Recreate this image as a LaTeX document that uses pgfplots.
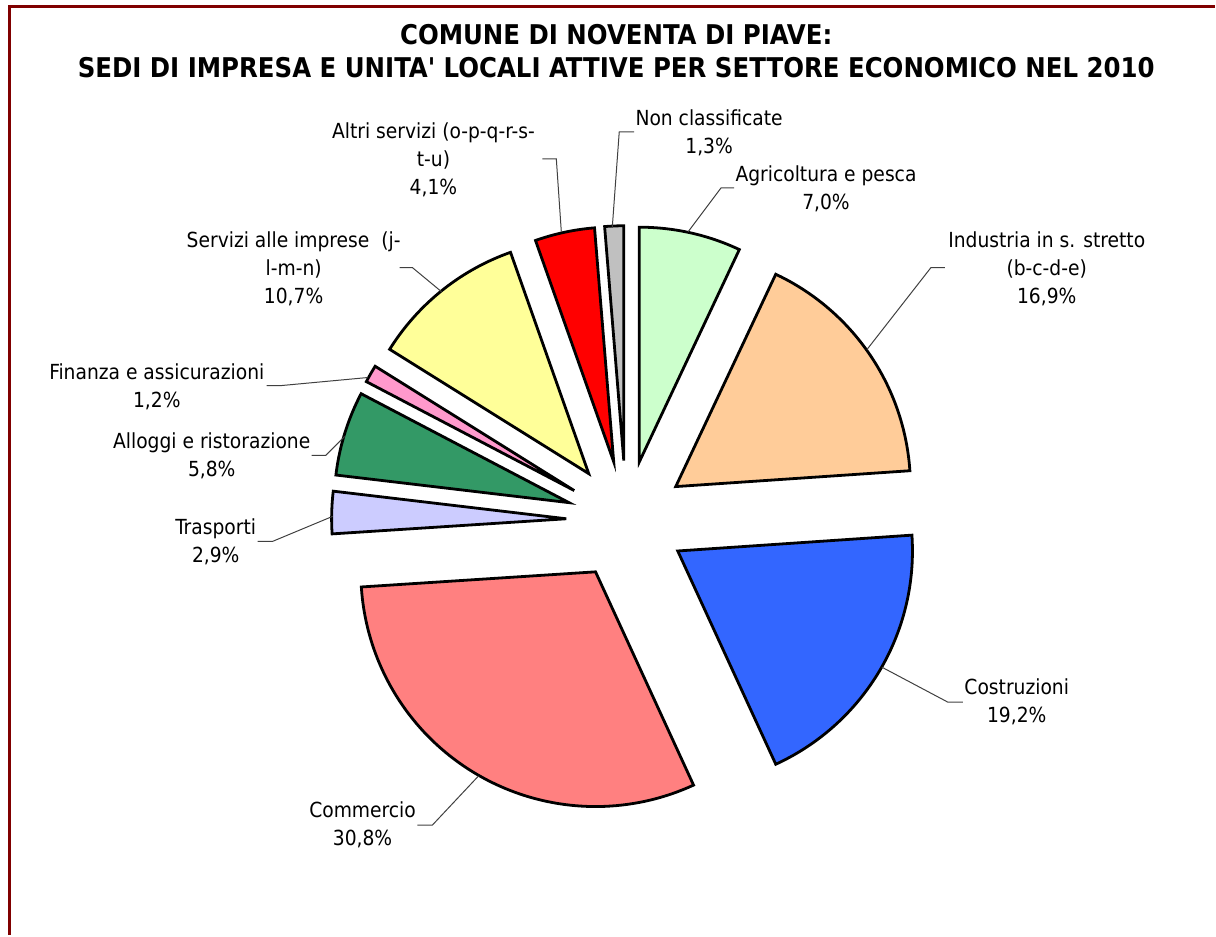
\documentclass[border=0pt]{standalone}
\usepackage{pgfplots}
\pgfplotsset{compat=1.18}
\usepackage{pgfplotstable}
\usepackage{fontspec}
\setmainfont{DejaVu Sans Condensed}[Ligatures=TeXOff]
\definecolor{cagri}{HTML}{CCFFCC}
\definecolor{cind}{HTML}{FFCC99}
\definecolor{ccost}{HTML}{3366FF}
\definecolor{ccomm}{HTML}{FF8080}
\definecolor{ctrasp}{HTML}{CCCCFF}
\definecolor{calloggi}{HTML}{339966}
\definecolor{cfin}{HTML}{FF99CC}
\definecolor{cserv}{HTML}{FFFF99}
\definecolor{caltri}{HTML}{FF0000}
\definecolor{cnonc}{HTML}{C0C0C0}
\definecolor{frame}{HTML}{800000}
\definecolor{leader}{HTML}{404040}

% percent share of each sector (clockwise from 12 o'clock)
\pgfplotstableread{
pct   col
7.0   cagri
16.9  cind
19.2  ccost
30.8  ccomm
2.9   ctrasp
5.8   calloggi
1.2   cfin
10.7  cserv
4.1   caltri
1.3   cnonc
}\piedata
\pgfplotstablegetrowsof{\piedata}
\pgfmathtruncatemacro{\N}{\pgfplotsretval-1}

\begin{document}
\begin{tikzpicture}
\begin{axis}[hide axis, scale only axis, width=608pt, height=468pt,
  xmin=0, xmax=1216, ymin=0, ymax=936, y dir=reverse, clip=false]
\path (axis cs:0,0) rectangle (axis cs:1216,936);
\def\cum{0}
\pgfplotsforeachungrouped \i in {0,...,\N}{%
  \pgfplotstablegetelem{\i}{pct}\of\piedata \let\p\pgfplotsretval
  \pgfplotstablegetelem{\i}{col}\of\piedata \let\slicecol\pgfplotsretval
  \pgfmathsetmacro{\aS}{90-\cum/99.9*360}%
  \pgfmathsetmacro{\aE}{90-(\cum+\p)/99.9*360}%
  \pgfmathsetmacro{\aM}{(\aS+\aE)/2}%
  \pgfmathsetmacro{\ox}{627+60*cos(\aM)}%
  \pgfmathsetmacro{\oy}{521-60*sin(\aM)}%
  \edef\doit{\noexpand\addplot[draw=black, line width=1.4pt, fill=\slicecol,
    domain=\aE:\aS, samples=80, variable=\noexpand\t, line join=miter]
    ({\ox+235*cos(\noexpand\t)},{\oy-235*sin(\noexpand\t)}) -- (axis cs:\ox,\oy) -- cycle;}%
  \doit
  \pgfmathsetmacro{\cum}{\cum+\p}%
}
% frame
\draw[frame, line width=1.5pt] (axis cs:10,936) -- (axis cs:10,7) -- (axis cs:1216,7);
% title
\node[font=\bfseries\fontsize{13.6}{16.5}\selectfont, align=center] at (axis cs:617,51)
  {COMUNE DI NOVENTA DI PIAVE:\\SEDI DI IMPRESA E UNITA' LOCALI ATTIVE PER SETTORE ECONOMICO NEL 2010};
% leader lines
\begin{scope}[leader, line width=0.5pt]
\draw (axis cs:613,228) -- (axis cs:620,132) -- (axis cs:635,132);
\draw (axis cs:689,232) -- (axis cs:722,188) -- (axis cs:735,188);
\draw (axis cs:868,350) -- (axis cs:932,268) -- (axis cs:946,268);
\draw (axis cs:883,668) -- (axis cs:949,703) -- (axis cs:964,703);
\draw (axis cs:479,777) -- (axis cs:433,826) -- (axis cs:418,826);
\draw (axis cs:333,517) -- (axis cs:273,542) -- (axis cs:258,542);
\draw (axis cs:345,437) -- (axis cs:326,456) -- (axis cs:312,456);
\draw (axis cs:368,378) -- (axis cs:282,386) -- (axis cs:267,386);
\draw (axis cs:442,292) -- (axis cs:413,268) -- (axis cs:400,268);
\draw (axis cs:562,232) -- (axis cs:557,159) -- (axis cs:543,159);
\end{scope}
% labels
\tikzset{lab/.style={font=\fontsize{10.4}{14}\selectfont, align=center, inner sep=0pt}}
\node[lab] at (axis cs:710,133) {Non classificate\\1,3\%};
\node[lab] at (axis cs:827,189) {Agricoltura e pesca\\7,0\%};
\node[lab] at (axis cs:1048,269) {Industria in s. stretto\\(b-c-d-e)\\16,9\%};
\node[lab] at (axis cs:1018,703) {Costruzioni\\19,2\%};
\node[lab] at (axis cs:363,826) {Commercio\\30,8\%};
\node[lab] at (axis cs:216,542) {Trasporti\\2,9\%};
\node[lab] at (axis cs:212,456) {Alloggi e ristorazione\\5,8\%};
\node[lab] at (axis cs:157,387) {Finanza e assicurazioni\\1,2\%};
\node[lab] at (axis cs:294,269) {Servizi alle imprese~~(j-\\l-m-n)\\10,7\%};
\node[lab] at (axis cs:434,160) {Altri servizi (o-p-q-r-s-\\t-u)\\4,1\%};
\end{axis}
\end{tikzpicture}
\end{document}
